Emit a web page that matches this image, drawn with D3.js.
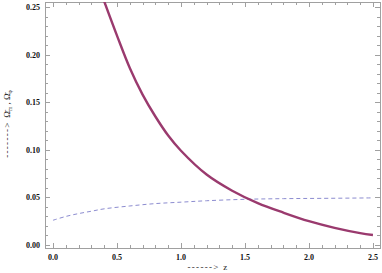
<!DOCTYPE html>
<html>
<head>
<meta charset="utf-8">
<script src="https://cdn.jsdelivr.net/npm/d3@7"></script>
<style>
  body { margin: 0; background: #fff; }
  svg text { font-family: "Liberation Serif", "DejaVu Serif", serif; }
</style>
</head>
<body>
<svg id="canvas" width="382" height="273"></svg>
<script>
let zMatter = [0.4, 0.5, 0.6, 0.7, 0.8, 0.9, 1.0, 1.2, 1.4, 1.6, 1.8, 2.0, 2.2, 2.4, 2.5]
let omegaMatter = [0.256, 0.220, 0.186, 0.158, 0.135, 0.115, 0.099, 0.074, 0.057, 0.044, 0.034, 0.025, 0.018, 0.0125, 0.0105]

let zPhi = [0.0, 0.1, 0.2, 0.3, 0.4, 0.6, 0.8, 1.0, 1.2, 1.5, 1.8, 2.1, 2.5]
let omegaPhi = [0.026, 0.030, 0.033, 0.0355, 0.038, 0.041, 0.0435, 0.045, 0.0465, 0.048, 0.0487, 0.049, 0.0495]

let xTicks = [0.0, 0.5, 1.0, 1.5, 2.0, 2.5]
let yTicks = [0.00, 0.05, 0.10, 0.15, 0.20, 0.25]

let svg = d3.select('#canvas')

let mLeft = 45, mRight = 380, mTop = 2, mBottom = 248

let xScale = d3.scaleLinear().domain([-0.0625, 2.555]).range([mLeft, mRight])
let yScale = d3.scaleLinear().domain([-0.00315, 0.2553]).range([mBottom, mTop])

let frameColor = '#a0a0a0'

// frame
svg.append('rect')
    .attr('x', mLeft + 0.5).attr('y', mTop + 0.5)
    .attr('width', mRight - mLeft).attr('height', mBottom - mTop)
    .attr('fill', 'none').attr('stroke', frameColor).attr('stroke-width', 1)

// ticks, major and minor
let xMinor = d3.range(0, 26).map(i => i / 10)
let yMinor = d3.range(0, 26).map(i => i / 100)

xMinor.forEach(v => {
    let major = Math.abs(v * 2 - Math.round(v * 2)) < 1e-6
    let len = major ? 5 : 3
    let x = Math.round(xScale(v)) + 0.5
    svg.append('line').attr('x1', x).attr('x2', x).attr('y1', mBottom).attr('y2', mBottom - len)
        .attr('stroke', frameColor)
    svg.append('line').attr('x1', x).attr('x2', x).attr('y1', mTop).attr('y2', mTop + len)
        .attr('stroke', frameColor)
})

yMinor.forEach(v => {
    let major = Math.abs(v * 20 - Math.round(v * 20)) < 1e-6
    let len = major ? 5 : 3
    let y = Math.round(yScale(v)) + 0.5
    svg.append('line').attr('x1', mLeft).attr('x2', mLeft + len).attr('y1', y).attr('y2', y)
        .attr('stroke', frameColor)
    svg.append('line').attr('x1', mRight).attr('x2', mRight - len).attr('y1', y).attr('y2', y)
        .attr('stroke', frameColor)
})

// tick labels
svg.selectAll('.xlab')
    .data(xTicks)
    .enter()
    .append('text')
    .attr('x', d => xScale(d))
    .attr('y', mBottom + 12)
    .attr('text-anchor', 'middle')
    .attr('font-size', 8)
    .attr('font-weight', 'bold')
    .attr('fill', '#111')
    .text(d => d.toFixed(1))

svg.selectAll('.ylab')
    .data(yTicks)
    .enter()
    .append('text')
    .attr('x', mLeft - 5)
    .attr('y', d => yScale(d) + 3)
    .attr('text-anchor', 'end')
    .attr('font-size', 8)
    .attr('font-weight', 'bold')
    .attr('fill', '#111')
    .text(d => d.toFixed(2))

// axis labels
svg.append('text')
    .attr('x', 208).attr('y', 270)
    .attr('text-anchor', 'middle')
    .attr('font-size', 9)
    .attr('letter-spacing', 1.3)
    .attr('fill', '#222')
    .text('------> z')

let yLab = svg.append('text')
    .attr('transform', 'translate(10,124) rotate(-90)')
    .attr('text-anchor', 'middle')
    .attr('font-size', 9)
    .attr('fill', '#222')
yLab.append('tspan').attr('letter-spacing', 1.3).text('-------> ')
yLab.append('tspan').text('\u03A9\u0304')
yLab.append('tspan').attr('font-size', 5.5).attr('dy', 2).text('m')
yLab.append('tspan').attr('dy', -2).text(' , \u03A9\u0304')
yLab.append('tspan').attr('font-size', 5.5).attr('dy', 2).text('\u03C6')

// clip
svg.append('clipPath').attr('id', 'plotclip')
    .append('rect').attr('x', mLeft).attr('y', mTop)
    .attr('width', mRight - mLeft).attr('height', mBottom - mTop)

let line = d3.line()
    .x(d => xScale(d[0]))
    .y(d => yScale(d[1]))
    .curve(d3.curveCatmullRom)

svg.append('path')
    .datum(d3.zip(zPhi, omegaPhi))
    .attr('clip-path', 'url(#plotclip)')
    .attr('d', line)
    .attr('fill', 'none')
    .attr('stroke', '#8c8cd0')
    .attr('stroke-width', 1)
    .attr('stroke-dasharray', '4,3')

svg.append('path')
    .datum(d3.zip(zMatter, omegaMatter))
    .attr('clip-path', 'url(#plotclip)')
    .attr('d', line)
    .attr('fill', 'none')
    .attr('stroke', '#9a3a6e')
    .attr('stroke-width', 2.4)
</script>
</body>
</html>
